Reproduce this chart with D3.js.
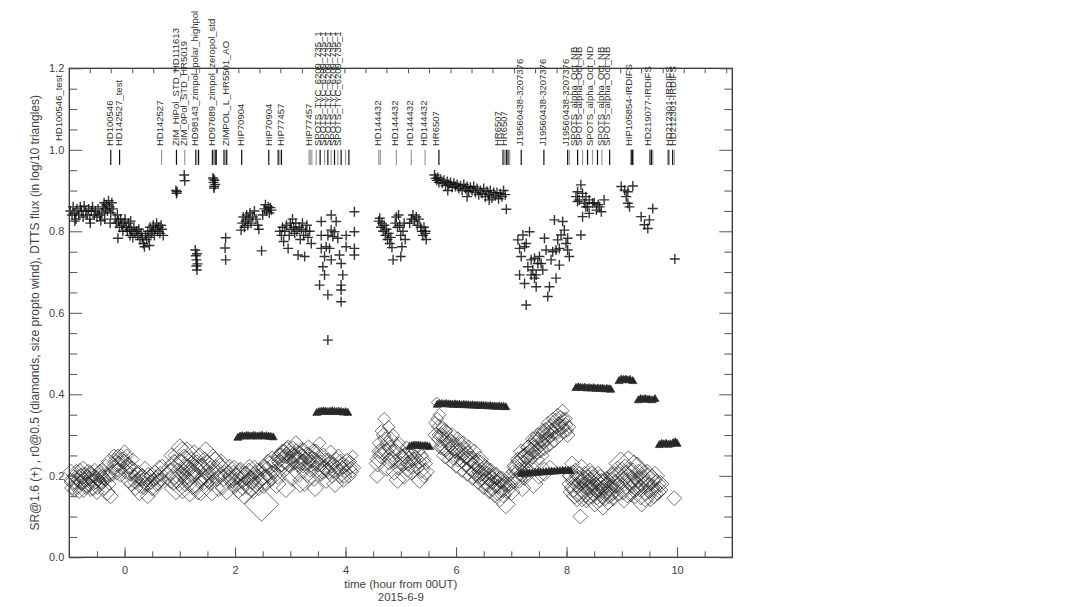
<!DOCTYPE html>
<html>
<head>
<meta charset="utf-8">
<script src="https://cdn.jsdelivr.net/npm/d3@7"></script>
<style>
    body { margin: 0; background: #fff; }
    text { font-family: "Liberation Sans", Arial, sans-serif; fill: #444; }
    .obsLabel { font-size: 9.5px; fill: #333; }
    .tickLabel { font-size: 11px; }
    .axisTitle { font-size: 11.5px; }
</style>
</head>
<body>
<svg id="chart"></svg>
<script>
// time axis (hours from 00UT) and flux axis
const xDomain = [-1, 11];
const yDomain = [0, 1.2];
const xMinorTicks = [-0.5, 0, 0.5, 1, 1.5, 2, 2.5, 3, 3.5, 4, 4.5, 5, 5.5, 6, 6.5, 7, 7.5, 8, 8.5, 9, 9.5, 10, 10.5];
const xMajorTicks = [0, 2, 4, 6, 8, 10];
const xTopTicks = [-0.63, -0.25, 0.14, 0.52, 0.9, 1.29, 1.67, 2.06, 2.44, 2.82, 3.21, 3.59, 3.98, 4.36, 4.74, 5.13, 5.51, 5.9, 6.28, 6.66, 7.05, 7.43, 7.82, 8.2, 8.58, 8.97, 9.35, 9.74, 10.12, 10.5, 10.89];
const yMinorTicks = [0.05, 0.1, 0.15, 0.25, 0.3, 0.35, 0.45, 0.5, 0.55, 0.65, 0.7, 0.75, 0.85, 0.9, 0.95, 1.05, 1.1, 1.15];
const yMajorTicks = [0, 0.2, 0.4, 0.6, 0.8, 1.0, 1.2];

// target names written above the plot [time, name]
const obsLabels = [
    [-1.2, 'HD100546_test'], [-0.27, 'HD100546'], [-0.1, 'HD142527_test'], [0.64, 'HD142527'],
    [0.92, 'ZIM_HiPol_STD_HD111613'], [1.07, 'ZIM_0Pol_STD_HR5019'], [1.27, 'HD98143_zimpol_polar_highpol'],
    [1.57, 'HD97689_zimpol_zeropol_std'], [1.83, 'ZIMPOL_L_HR5501_AO'], [2.1, 'HIP70904'], [2.61, 'HIP70904'],
    [2.83, 'HIP77457'], [3.34, 'HIP77457'], [3.49, 'SPOTS_TYC_6209_735_1'], [3.58, 'SPOTS_TYC_6209_735_1'],
    [3.67, 'SPOTS_TYC_6209_735_1'], [3.76, 'SPOTS_TYC_6209_735_1'], [3.85, 'SPOTS_TYC_6209_735_1'],
    [4.59, 'HD144432'], [4.89, 'HD144432'], [5.16, 'HD144432'], [5.41, 'HD144432'], [5.64, 'HR6507'],
    [6.76, 'HR6507'], [6.86, 'HR6507'], [7.15, 'J19560438-3207376'], [7.56, 'J19560438-3207376'],
    [7.99, 'J19560438-3207376'], [8.13, 'SPOTS_alpha_Oct_NB'], [8.22, 'SPOTS_alpha_Oct_NB'],
    [8.41, 'SPOTS_alpha_Oct_ND'], [8.61, 'SPOTS_alpha_Oct_NB'], [8.73, 'SPOTS_alpha_Oct_NB'],
    [9.12, 'HIP105854-IRDIFS'], [9.47, 'HD219077-IRDIFS'], [9.85, 'HD212301-IRDIFS'], [9.92, 'HD212301-IRDIFS']
];

// observation start marks [time, 1 = black / 0 = grey]
const obsBars = [
    [-0.25, 1], [-0.09, 1], [0.67, 0], [0.94, 1], [1.09, 0], [1.29, 1], [1.31, 0], [1.34, 1],
    [1.59, 1], [1.61, 0], [1.64, 1], [1.66, 1], [1.8, 1], [1.83, 0], [1.85, 1], [2.12, 1], [2.61, 1],
    [2.78, 1], [2.81, 0], [2.84, 1], [3.34, 0], [3.36, 0], [3.39, 0], [3.47, 0], [3.54, 1], [3.62, 0],
    [3.68, 1], [3.74, 0], [3.8, 1], [3.86, 0], [3.92, 1], [4.0, 0], [4.06, 1], [4.6, 0], [4.63, 0],
    [4.92, 0], [5.19, 0], [5.44, 0], [5.69, 1], [6.85, 1], [6.88, 0], [6.91, 1], [6.94, 1], [6.97, 0],
    [7.18, 1], [7.59, 1], [8.02, 1], [8.05, 0], [8.2, 1], [8.29, 0], [8.38, 1], [8.47, 0], [8.56, 1],
    [8.64, 0], [8.78, 1], [9.17, 1], [9.19, 1], [9.2, 1], [9.51, 1], [9.54, 1], [9.56, 0],
    [9.84, 1], [9.86, 0], [9.92, 1], [9.95, 0]
];

// SR@1.6 (crosses) [time, value]
const srPoints = [
    [-0.98, 0.85], [-0.95, 0.84], [-0.93, 0.86], [-0.9, 0.845], [-0.88, 0.83], [-0.86, 0.855], [-0.83, 0.84],
    [-0.8, 0.86], [-0.78, 0.85], [-0.75, 0.835], [-0.73, 0.862], [-0.7, 0.85], [-0.68, 0.84], [-0.65, 0.855],
    [-0.63, 0.83], [-0.6, 0.85], [-0.58, 0.86], [-0.55, 0.84], [-0.53, 0.85], [-0.5, 0.835], [-0.48, 0.855],
    [-0.45, 0.84], [-0.43, 0.826], [-0.41, 0.845], [-0.39, 0.86], [-0.37, 0.87], [-0.35, 0.855], [-0.33, 0.865],
    [-0.31, 0.85], [-0.29, 0.875], [-0.27, 0.86], [-0.25, 0.845], [-0.23, 0.87], [-0.21, 0.855], [-0.36, 0.83],
    [-0.26, 0.82], [-0.9, 0.825], [-0.62, 0.82],
    [-0.17, 0.83], [-0.15, 0.82], [-0.13, 0.84], [-0.11, 0.825], [-0.09, 0.81], [-0.07, 0.83], [-0.05, 0.815],
    [-0.03, 0.8], [-0.01, 0.82], [0.01, 0.83], [0.03, 0.81], [0.05, 0.8], [0.07, 0.82], [0.09, 0.805],
    [0.11, 0.825], [0.13, 0.8], [0.15, 0.785], [0.17, 0.81], [0.19, 0.795], [-0.12, 0.783], [0.1, 0.79],
    [0.22, 0.8], [0.24, 0.79], [0.26, 0.805], [0.28, 0.78], [0.3, 0.795], [0.32, 0.785], [0.34, 0.77],
    [0.36, 0.762], [0.38, 0.79], [0.4, 0.78], [0.42, 0.8], [0.44, 0.785], [0.46, 0.81], [0.48, 0.795],
    [0.5, 0.8], [0.52, 0.815], [0.54, 0.79], [0.56, 0.805], [0.58, 0.82], [0.6, 0.8], [0.62, 0.81],
    [0.64, 0.795], [0.66, 0.815], [0.68, 0.805], [0.7, 0.79], [0.45, 0.765],
    [0.93, 0.9], [0.94, 0.893], [0.95, 0.897], [1.08, 0.938], [1.09, 0.924],
    [1.28, 0.754], [1.29, 0.74], [1.3, 0.73], [1.31, 0.745], [1.3, 0.715], [1.31, 0.705], [1.32, 0.72],
    [1.6, 0.931], [1.61, 0.92], [1.62, 0.91], [1.63, 0.925], [1.64, 0.915], [1.62, 0.906], [1.61, 0.928],
    [1.83, 0.784], [1.82, 0.759], [1.83, 0.73],
    [2.11, 0.803], [2.13, 0.82], [2.15, 0.835], [2.17, 0.81], [2.19, 0.825], [2.21, 0.84], [2.23, 0.815],
    [2.25, 0.83], [2.27, 0.845], [2.29, 0.82], [2.32, 0.835], [2.35, 0.85], [2.38, 0.83], [2.41, 0.815],
    [2.43, 0.805], [2.48, 0.752], [2.5, 0.84], [2.53, 0.855], [2.55, 0.865], [2.57, 0.85], [2.6, 0.86],
    [2.62, 0.845], [2.64, 0.858], [2.66, 0.852],
    [2.81, 0.8], [2.84, 0.79], [2.86, 0.81], [2.88, 0.775], [2.9, 0.8], [2.93, 0.815], [2.96, 0.758],
    [2.98, 0.79], [3.0, 0.82], [3.02, 0.805], [3.04, 0.83], [3.06, 0.81], [3.08, 0.795], [3.1, 0.82],
    [3.12, 0.8], [3.14, 0.742], [3.16, 0.81], [3.18, 0.78], [3.2, 0.805], [3.22, 0.82], [3.24, 0.79],
    [3.26, 0.738], [3.28, 0.8], [3.3, 0.815], [3.32, 0.785], [3.35, 0.8], [3.38, 0.77],
    [3.53, 0.668], [3.56, 0.824], [3.56, 0.79], [3.56, 0.758], [3.59, 0.713], [3.62, 0.693], [3.62, 0.738],
    [3.65, 0.762], [3.68, 0.644], [3.68, 0.533], [3.68, 0.79], [3.71, 0.758], [3.74, 0.84], [3.74, 0.73],
    [3.74, 0.803], [3.77, 0.787], [3.8, 0.799], [3.83, 0.824], [3.86, 0.783], [3.89, 0.742], [3.92, 0.721],
    [3.95, 0.693], [3.92, 0.668], [3.92, 0.656], [3.92, 0.627], [4.01, 0.79], [4.01, 0.762], [4.16, 0.848],
    [4.16, 0.799], [4.16, 0.758], [4.16, 0.742],
    [4.6, 0.825], [4.62, 0.832], [4.64, 0.81], [4.66, 0.82], [4.68, 0.8], [4.7, 0.815], [4.72, 0.79],
    [4.74, 0.805], [4.76, 0.78], [4.78, 0.795], [4.8, 0.77], [4.82, 0.785], [4.86, 0.73], [4.84, 0.76],
    [4.9, 0.82], [4.92, 0.835], [4.94, 0.81], [4.96, 0.84], [4.98, 0.815], [5.0, 0.79], [5.02, 0.762],
    [5.0, 0.738], [5.04, 0.8], [5.06, 0.82], [5.08, 0.78],
    [5.16, 0.82], [5.19, 0.83], [5.22, 0.84], [5.25, 0.825], [5.28, 0.835], [5.3, 0.815], [5.33, 0.83],
    [5.36, 0.81], [5.38, 0.8], [5.4, 0.79], [5.42, 0.81], [5.44, 0.795], [5.46, 0.78], [5.45, 0.8],
    [5.61, 0.938], [5.63, 0.93], [5.65, 0.925], [5.67, 0.932], [5.69, 0.92], [5.72, 0.928], [5.75, 0.918],
    [5.78, 0.925], [5.81, 0.912], [5.84, 0.922], [5.87, 0.915], [5.9, 0.92], [5.93, 0.908], [5.96, 0.918],
    [5.99, 0.91], [6.02, 0.915], [6.05, 0.905], [6.08, 0.912], [6.11, 0.9], [6.14, 0.915], [6.17, 0.905],
    [6.2, 0.91], [6.23, 0.898], [6.26, 0.908], [6.29, 0.9], [6.32, 0.91], [6.35, 0.895], [6.38, 0.905],
    [6.41, 0.89], [6.44, 0.9], [6.47, 0.893], [6.5, 0.905], [6.53, 0.885], [6.56, 0.898], [6.59, 0.89],
    [6.62, 0.9], [6.65, 0.882], [6.68, 0.895], [6.71, 0.887], [6.74, 0.895], [6.77, 0.88], [6.8, 0.892],
    [6.83, 0.885], [6.86, 0.9], [6.89, 0.89], [6.91, 0.854], [5.85, 0.9], [6.2, 0.885], [6.6, 0.877],
    [7.12, 0.779], [7.15, 0.758], [7.18, 0.738], [7.21, 0.791], [7.27, 0.77], [7.33, 0.799], [7.15, 0.693],
    [7.24, 0.672], [7.27, 0.619], [7.3, 0.713], [7.36, 0.73], [7.39, 0.705], [7.42, 0.685], [7.45, 0.664],
    [7.48, 0.721], [7.51, 0.738], [7.57, 0.705], [7.63, 0.754], [7.66, 0.64], [7.69, 0.664], [7.72, 0.73],
    [7.75, 0.75], [7.78, 0.828], [7.81, 0.685], [7.81, 0.754], [7.84, 0.779], [7.87, 0.758], [7.9, 0.791],
    [7.93, 0.824], [7.96, 0.803], [7.99, 0.77], [8.02, 0.754], [8.05, 0.738], [7.87, 0.717], [8.02, 0.783],
    [7.6, 0.783], [7.54, 0.721], [7.45, 0.693], [7.36, 0.693], [7.24, 0.762], [7.42, 0.734], [8.26, 0.791],
    [8.17, 0.885], [8.2, 0.873], [8.23, 0.877], [8.26, 0.914], [8.29, 0.893], [8.32, 0.869], [8.35, 0.885],
    [8.38, 0.86], [8.41, 0.877], [8.47, 0.869], [8.54, 0.852], [8.6, 0.86], [8.63, 0.848], [8.68, 0.877],
    [8.29, 0.836], [8.41, 0.844], [8.2, 0.897], [8.35, 0.86], [8.5, 0.87], [8.57, 0.865],
    [8.99, 0.91], [9.11, 0.897], [9.2, 0.911], [9.08, 0.885], [9.11, 0.869], [9.14, 0.86], [9.05, 0.901],
    [9.35, 0.836], [9.41, 0.816], [9.5, 0.828], [9.47, 0.807], [9.56, 0.856], [9.96, 0.732]
];

// r0@0.5 (diamonds) [time, value, wind m/s]
const r0Points = [
    [-0.98, 0.19, 6], [-0.95, 0.17, 7], [-0.92, 0.2, 6], [-0.9, 0.18, 5], [-0.87, 0.21, 7], [-0.85, 0.19, 6],
    [-0.82, 0.16, 6], [-0.8, 0.2, 7], [-0.77, 0.18, 6], [-0.75, 0.22, 6], [-0.72, 0.19, 7], [-0.7, 0.17, 6],
    [-0.67, 0.2, 5], [-0.65, 0.18, 7], [-0.62, 0.21, 6], [-0.6, 0.19, 6], [-0.57, 0.17, 7], [-0.55, 0.2, 6],
    [-0.52, 0.18, 5], [-0.5, 0.16, 7], [-0.47, 0.19, 6], [-0.45, 0.21, 7], [-0.42, 0.18, 6], [-0.4, 0.2, 6],
    [-0.37, 0.17, 7], [-0.35, 0.19, 6], [-0.32, 0.16, 8], [-0.3, 0.2, 6], [-0.27, 0.18, 6], [-0.25, 0.15, 7],
    [-0.2, 0.22, 7], [-0.17, 0.24, 6], [-0.14, 0.21, 8], [-0.12, 0.25, 6], [-0.1, 0.23, 7], [-0.07, 0.2, 6],
    [-0.05, 0.24, 7], [-0.02, 0.22, 6], [0.0, 0.26, 6], [0.03, 0.21, 7], [0.05, 0.23, 6], [0.08, 0.19, 8],
    [0.1, 0.22, 6], [0.12, 0.18, 7], [0.15, 0.24, 6],
    [0.18, 0.2, 6], [0.2, 0.17, 7], [0.22, 0.19, 6], [0.25, 0.21, 6], [0.27, 0.16, 8], [0.3, 0.19, 6],
    [0.32, 0.2, 7], [0.35, 0.17, 6], [0.37, 0.22, 6], [0.4, 0.19, 7], [0.42, 0.15, 7], [0.45, 0.18, 6],
    [0.47, 0.2, 6], [0.5, 0.17, 7], [0.52, 0.19, 6], [0.55, 0.21, 6], [0.58, 0.18, 7], [0.6, 0.2, 6],
    [0.63, 0.22, 7], [0.66, 0.19, 6],
    [0.82, 0.21, 8], [0.85, 0.25, 7], [0.88, 0.19, 10], [0.9, 0.23, 9], [0.93, 0.17, 11], [0.96, 0.2, 12],
    [1.0, 0.27, 8], [1.02, 0.22, 13], [1.05, 0.18, 14], [1.08, 0.24, 10], [1.1, 0.2, 15], [1.13, 0.26, 9],
    [1.15, 0.21, 12], [1.18, 0.17, 13], [1.2, 0.23, 11], [1.23, 0.19, 14], [1.26, 0.25, 10], [1.28, 0.2, 16],
    [1.31, 0.22, 12], [1.33, 0.18, 15], [1.36, 0.24, 11], [1.4, 0.21, 13], [1.43, 0.19, 10], [1.47, 0.26, 9],
    [1.5, 0.22, 12], [1.55, 0.2, 14], [1.6, 0.24, 10], [1.65, 0.21, 11], [1.7, 0.18, 12], [1.75, 0.23, 9],
    [1.8, 0.2, 10], [1.85, 0.17, 11], [1.9, 0.22, 8],
    [1.95, 0.19, 8], [1.98, 0.22, 7], [2.0, 0.18, 9], [2.03, 0.2, 8], [2.06, 0.17, 10], [2.1, 0.21, 9],
    [2.13, 0.19, 8], [2.16, 0.16, 11], [2.2, 0.2, 9], [2.23, 0.18, 10], [2.26, 0.22, 8], [2.3, 0.19, 9],
    [2.33, 0.17, 10], [2.36, 0.2, 9], [2.4, 0.21, 8], [2.43, 0.18, 11], [2.48, 0.13, 16], [2.5, 0.2, 9],
    [2.53, 0.22, 8], [2.56, 0.19, 10], [2.6, 0.23, 9], [2.63, 0.2, 8], [2.67, 0.24, 8], [2.7, 0.21, 7],
    [2.75, 0.18, 9],
    [2.8, 0.25, 7], [2.83, 0.23, 8], [2.86, 0.26, 7], [2.9, 0.22, 9], [2.93, 0.25, 8], [2.96, 0.27, 7],
    [3.0, 0.23, 9], [3.03, 0.2, 10], [3.06, 0.25, 8], [3.1, 0.28, 7], [3.13, 0.24, 9], [3.16, 0.21, 10],
    [3.2, 0.26, 8], [3.23, 0.23, 9], [3.26, 0.19, 11], [3.3, 0.25, 8], [3.33, 0.27, 7], [3.36, 0.22, 9],
    [3.4, 0.24, 8], [3.43, 0.2, 10], [3.46, 0.26, 7], [3.5, 0.23, 8], [3.53, 0.28, 6], [3.56, 0.21, 9],
    [3.6, 0.25, 7], [2.92, 0.17, 9], [3.18, 0.18, 8], [3.45, 0.17, 8],
    [3.62, 0.22, 7], [3.65, 0.19, 8], [3.68, 0.24, 6], [3.7, 0.21, 7], [3.73, 0.26, 6], [3.76, 0.2, 7],
    [3.78, 0.23, 6], [3.81, 0.18, 8], [3.84, 0.22, 7], [3.87, 0.25, 6], [3.9, 0.2, 7], [3.93, 0.23, 6],
    [3.96, 0.19, 7], [4.0, 0.21, 6], [4.03, 0.24, 6], [4.06, 0.2, 7], [4.1, 0.22, 6], [4.13, 0.25, 5],
    [4.16, 0.22, 6],
    [4.57, 0.2, 7], [4.6, 0.24, 8], [4.62, 0.28, 7], [4.65, 0.31, 6], [4.67, 0.26, 8], [4.7, 0.34, 6],
    [4.72, 0.29, 7], [4.75, 0.22, 8], [4.78, 0.32, 6], [4.8, 0.27, 7], [4.83, 0.24, 8], [4.86, 0.3, 6],
    [4.88, 0.21, 8], [4.91, 0.26, 7], [4.94, 0.19, 8], [4.97, 0.28, 6], [5.0, 0.23, 7], [5.03, 0.25, 6],
    [5.06, 0.2, 8], [5.1, 0.27, 6], [5.13, 0.23, 7], [5.16, 0.26, 6], [5.2, 0.21, 8], [5.23, 0.24, 7],
    [5.27, 0.27, 6], [5.3, 0.22, 7], [5.34, 0.19, 8], [5.38, 0.25, 6], [5.42, 0.2, 7], [5.46, 0.23, 6],
    [5.62, 0.33, 6], [5.65, 0.38, 5], [5.68, 0.3, 6], [5.7, 0.35, 6], [5.72, 0.27, 7], [5.75, 0.32, 6],
    [5.78, 0.29, 7], [5.8, 0.25, 8], [5.83, 0.31, 6], [5.86, 0.28, 7], [5.9, 0.24, 8], [5.93, 0.3, 7],
    [5.96, 0.27, 8], [6.0, 0.23, 9], [6.03, 0.29, 7], [6.06, 0.26, 8], [6.1, 0.22, 9], [6.13, 0.28, 7],
    [6.16, 0.25, 8], [6.2, 0.21, 9], [6.23, 0.27, 7], [6.26, 0.24, 8], [6.3, 0.2, 9], [6.33, 0.26, 7],
    [6.36, 0.23, 8], [6.4, 0.19, 9], [6.43, 0.24, 8], [6.46, 0.21, 9], [6.5, 0.18, 10], [6.53, 0.22, 8],
    [6.56, 0.2, 9], [6.6, 0.17, 10], [6.63, 0.21, 8], [6.66, 0.19, 9], [6.7, 0.16, 10], [6.73, 0.2, 8],
    [6.76, 0.18, 9], [6.8, 0.15, 10], [6.83, 0.19, 8], [6.86, 0.17, 9], [6.9, 0.13, 9], [6.93, 0.18, 7],
    [6.96, 0.2, 6], [7.0, 0.16, 8], [7.03, 0.21, 6],
    [7.06, 0.22, 7], [7.09, 0.19, 8], [7.12, 0.24, 7], [7.15, 0.21, 9], [7.18, 0.26, 7], [7.21, 0.23, 8],
    [7.24, 0.2, 9], [7.27, 0.25, 8], [7.3, 0.27, 7], [7.33, 0.22, 9], [7.36, 0.26, 8], [7.39, 0.29, 7],
    [7.42, 0.24, 9], [7.45, 0.28, 8], [7.48, 0.3, 7], [7.51, 0.25, 9], [7.54, 0.28, 8], [7.57, 0.31, 7],
    [7.6, 0.27, 8], [7.63, 0.3, 7], [7.66, 0.33, 6], [7.69, 0.28, 8], [7.72, 0.31, 7], [7.75, 0.34, 6],
    [7.78, 0.29, 8], [7.81, 0.32, 7], [7.84, 0.35, 6], [7.87, 0.3, 7], [7.9, 0.33, 6], [7.93, 0.36, 6],
    [7.96, 0.31, 7], [7.99, 0.34, 6], [8.02, 0.3, 7], [8.05, 0.32, 6], [7.5, 0.2, 8], [7.7, 0.22, 7],
    [8.08, 0.2, 8], [8.1, 0.23, 7], [8.13, 0.17, 9], [8.16, 0.21, 8], [8.19, 0.15, 10], [8.22, 0.19, 9],
    [8.25, 0.1, 7], [8.27, 0.22, 8], [8.3, 0.17, 10], [8.33, 0.2, 9], [8.36, 0.15, 11], [8.39, 0.18, 10],
    [8.42, 0.21, 8], [8.45, 0.16, 11], [8.48, 0.19, 10], [8.51, 0.14, 11], [8.54, 0.17, 10], [8.57, 0.2, 9],
    [8.6, 0.15, 11], [8.63, 0.18, 10], [8.66, 0.13, 10], [8.69, 0.16, 9], [8.72, 0.19, 8], [8.75, 0.14, 9],
    [8.78, 0.17, 8], [8.82, 0.2, 8], [8.85, 0.15, 9], [8.88, 0.18, 9],
    [8.92, 0.21, 10], [8.96, 0.17, 12], [9.0, 0.2, 13], [9.04, 0.15, 11], [9.08, 0.19, 14], [9.12, 0.23, 12],
    [9.16, 0.17, 13], [9.2, 0.2, 12], [9.24, 0.16, 11], [9.28, 0.22, 10], [9.32, 0.18, 12], [9.36, 0.14, 11],
    [9.4, 0.2, 10], [9.44, 0.17, 12], [9.48, 0.19, 11], [9.52, 0.15, 10], [9.56, 0.17, 9], [9.6, 0.2, 9],
    [9.65, 0.16, 8], [9.7, 0.18, 8], [9.95, 0.145, 7],
    // second pass of the same nights (denser sampling)
    [-0.97, 0.21, 7], [-0.94, 0.185, 8], [-0.91, 0.165, 6], [-0.88, 0.195, 7], [-0.84, 0.175, 8], [-0.81, 0.215, 6],
    [-0.79, 0.185, 7], [-0.76, 0.2, 8], [-0.74, 0.165, 7], [-0.71, 0.205, 6], [-0.69, 0.18, 8], [-0.66, 0.21, 7],
    [-0.64, 0.195, 6], [-0.61, 0.17, 8], [-0.59, 0.2, 7], [-0.56, 0.185, 8], [-0.54, 0.215, 6], [-0.51, 0.195, 7],
    [-0.49, 0.175, 8], [-0.46, 0.2, 7], [-0.44, 0.185, 6], [-0.41, 0.21, 8], [-0.38, 0.195, 7], [-0.34, 0.225, 6],
    [-0.31, 0.2, 8], [-0.28, 0.235, 7], [-0.24, 0.205, 8], [-0.19, 0.25, 6], [-0.16, 0.23, 8], [-0.11, 0.215, 7],
    [-0.06, 0.245, 8], [-0.01, 0.235, 7], [0.04, 0.25, 6], [0.07, 0.225, 8], [0.11, 0.205, 7], [0.14, 0.215, 8],
    [0.19, 0.185, 7], [0.24, 0.2, 8], [0.29, 0.175, 7], [0.33, 0.195, 8], [0.38, 0.18, 7], [0.43, 0.2, 8],
    [0.48, 0.185, 7], [0.53, 0.17, 8], [0.57, 0.195, 7], [0.61, 0.185, 8], [0.65, 0.205, 7], [0.68, 0.225, 6],
    [0.84, 0.2, 12], [0.91, 0.215, 14], [0.99, 0.19, 11], [1.04, 0.25, 13], [1.11, 0.23, 12], [1.17, 0.2, 10],
    [1.22, 0.215, 13], [1.27, 0.185, 12], [1.35, 0.205, 14], [1.38, 0.17, 12], [1.45, 0.23, 11], [1.52, 0.195, 10],
    [1.58, 0.17, 12], [1.63, 0.225, 13], [1.68, 0.2, 10], [1.73, 0.215, 11], [1.78, 0.185, 12], [1.88, 0.2, 10],
    [1.97, 0.2, 10], [2.02, 0.19, 11], [2.08, 0.205, 10], [2.14, 0.175, 9], [2.19, 0.195, 11], [2.25, 0.205, 10],
    [2.29, 0.18, 12], [2.35, 0.215, 9], [2.41, 0.19, 10], [2.46, 0.2, 12], [2.52, 0.185, 11], [2.58, 0.21, 10],
    [2.62, 0.225, 9], [2.66, 0.2, 10], [2.72, 0.23, 8], [2.77, 0.2, 8],
    [2.82, 0.245, 9], [2.85, 0.235, 10], [2.88, 0.255, 9], [2.91, 0.24, 10], [2.94, 0.26, 9], [2.97, 0.235, 10],
    [3.01, 0.25, 9], [3.04, 0.265, 8], [3.07, 0.24, 10], [3.11, 0.255, 9], [3.14, 0.235, 10], [3.17, 0.25, 9],
    [3.21, 0.24, 10], [3.24, 0.26, 8], [3.28, 0.235, 9], [3.31, 0.21, 10], [3.34, 0.245, 9], [3.38, 0.23, 8],
    [3.41, 0.26, 7], [3.44, 0.235, 9], [3.48, 0.215, 8], [3.52, 0.245, 7], [3.55, 0.23, 8], [3.58, 0.21, 7],
    [3.63, 0.24, 6], [3.67, 0.215, 7], [3.72, 0.235, 6], [3.75, 0.225, 7], [3.8, 0.21, 6], [3.83, 0.24, 7],
    [3.88, 0.215, 6], [3.91, 0.235, 7], [3.95, 0.22, 6], [3.98, 0.2, 7], [4.02, 0.225, 6], [4.08, 0.235, 6],
    [4.12, 0.21, 6],
    [4.58, 0.23, 8], [4.61, 0.26, 7], [4.64, 0.25, 8], [4.69, 0.3, 7], [4.73, 0.26, 8], [4.76, 0.28, 7],
    [4.79, 0.235, 8], [4.82, 0.29, 7], [4.85, 0.255, 8], [4.9, 0.235, 7], [4.93, 0.27, 8], [4.96, 0.22, 7],
    [5.01, 0.245, 8], [5.05, 0.23, 7], [5.08, 0.25, 8], [5.12, 0.215, 7], [5.15, 0.24, 8], [5.19, 0.255, 7],
    [5.22, 0.225, 8], [5.26, 0.245, 7], [5.29, 0.26, 8], [5.33, 0.235, 7], [5.37, 0.215, 8], [5.41, 0.24, 7],
    [5.45, 0.21, 8],
    [5.63, 0.3, 7], [5.66, 0.34, 6], [5.69, 0.32, 7], [5.71, 0.29, 8], [5.74, 0.3, 7], [5.77, 0.27, 8],
    [5.79, 0.31, 7], [5.82, 0.27, 9], [5.85, 0.29, 8], [5.88, 0.26, 9], [5.91, 0.28, 8], [5.95, 0.25, 9],
    [5.98, 0.27, 10], [6.01, 0.26, 8], [6.04, 0.245, 9], [6.08, 0.27, 10], [6.11, 0.24, 8], [6.15, 0.26, 9],
    [6.18, 0.235, 10], [6.21, 0.25, 9], [6.25, 0.225, 10], [6.28, 0.24, 8], [6.31, 0.22, 10], [6.35, 0.21, 9],
    [6.38, 0.23, 10], [6.41, 0.205, 9], [6.45, 0.225, 10], [6.48, 0.2, 9], [6.51, 0.19, 10], [6.55, 0.21, 9],
    [6.58, 0.185, 10], [6.62, 0.195, 9], [6.65, 0.175, 10], [6.68, 0.2, 8], [6.72, 0.18, 9], [6.75, 0.165, 10],
    [6.79, 0.19, 8], [6.82, 0.17, 9], [6.85, 0.155, 8], [6.88, 0.18, 7], [6.92, 0.165, 8], [6.98, 0.18, 7],
    [7.07, 0.2, 8], [7.1, 0.225, 9], [7.14, 0.19, 8], [7.17, 0.235, 9], [7.2, 0.205, 8], [7.23, 0.245, 9],
    [7.26, 0.215, 8], [7.29, 0.25, 9], [7.32, 0.24, 8], [7.35, 0.27, 9], [7.38, 0.25, 8], [7.41, 0.265, 9],
    [7.44, 0.29, 7], [7.47, 0.26, 8], [7.5, 0.285, 9], [7.53, 0.265, 8], [7.56, 0.295, 9], [7.59, 0.285, 7],
    [7.62, 0.31, 8], [7.65, 0.29, 7], [7.68, 0.315, 8], [7.71, 0.3, 7], [7.74, 0.32, 8], [7.77, 0.305, 7],
    [7.8, 0.335, 7], [7.83, 0.31, 8], [7.86, 0.325, 7], [7.89, 0.345, 6], [7.92, 0.32, 7], [7.95, 0.34, 6],
    [7.98, 0.325, 7], [8.01, 0.31, 6], [7.2, 0.17, 8], [7.4, 0.18, 9], [7.6, 0.21, 9],
    [8.09, 0.18, 9], [8.12, 0.2, 10], [8.15, 0.16, 11], [8.18, 0.185, 10], [8.21, 0.165, 11], [8.24, 0.2, 9],
    [8.28, 0.155, 12], [8.31, 0.185, 11], [8.34, 0.165, 12], [8.37, 0.19, 10], [8.4, 0.16, 12], [8.43, 0.18, 11],
    [8.46, 0.2, 9], [8.49, 0.165, 11], [8.52, 0.18, 12], [8.55, 0.155, 10], [8.58, 0.175, 11], [8.61, 0.19, 10],
    [8.64, 0.16, 11], [8.67, 0.18, 10], [8.7, 0.15, 9], [8.73, 0.17, 10], [8.77, 0.155, 9], [8.8, 0.185, 9],
    [8.84, 0.165, 10], [8.87, 0.2, 9],
    [8.94, 0.19, 12], [8.98, 0.23, 11], [9.02, 0.175, 13], [9.06, 0.21, 12], [9.1, 0.165, 12], [9.14, 0.2, 13],
    [9.18, 0.185, 11], [9.22, 0.22, 12], [9.26, 0.18, 12], [9.3, 0.2, 11], [9.34, 0.16, 12], [9.38, 0.185, 11],
    [9.42, 0.15, 10], [9.46, 0.2, 11], [9.5, 0.17, 10], [9.54, 0.19, 10], [9.58, 0.155, 9], [9.63, 0.18, 9],
    [9.68, 0.165, 8]
];

// DTTS flux, log/10 (triangles) [time, value]
const dttsPoints = [
    [2.05, 0.293], [2.09, 0.296], [2.13, 0.297], [2.17, 0.296], [2.21, 0.298], [2.25, 0.297], [2.29, 0.296],
    [2.33, 0.298], [2.37, 0.297], [2.41, 0.296], [2.45, 0.297], [2.49, 0.298], [2.53, 0.296], [2.57, 0.297],
    [2.61, 0.296], [2.65, 0.295], [2.69, 0.294],
    [3.48, 0.354], [3.52, 0.356], [3.56, 0.357], [3.6, 0.358], [3.64, 0.357], [3.68, 0.356], [3.72, 0.357],
    [3.76, 0.358], [3.8, 0.357], [3.84, 0.356], [3.88, 0.357], [3.92, 0.356], [3.96, 0.355], [4.0, 0.356],
    [4.04, 0.354],
    [5.16, 0.271], [5.2, 0.273], [5.24, 0.274], [5.28, 0.273], [5.32, 0.274], [5.36, 0.273], [5.4, 0.272],
    [5.44, 0.273], [5.48, 0.272], [5.52, 0.27],
    [5.66, 0.374], [5.7, 0.376], [5.74, 0.376], [5.78, 0.375], [5.82, 0.376], [5.86, 0.375], [5.9, 0.375],
    [5.94, 0.374], [5.98, 0.375], [6.02, 0.374], [6.06, 0.374], [6.1, 0.373], [6.14, 0.374], [6.18, 0.373],
    [6.22, 0.373], [6.26, 0.372], [6.3, 0.373], [6.34, 0.372], [6.38, 0.372], [6.42, 0.371], [6.46, 0.372],
    [6.5, 0.371], [6.54, 0.371], [6.58, 0.37], [6.62, 0.371], [6.66, 0.37], [6.7, 0.37], [6.74, 0.369],
    [6.78, 0.37], [6.82, 0.369], [6.86, 0.369], [6.9, 0.368],
    [7.18, 0.204], [7.23, 0.205], [7.28, 0.205], [7.33, 0.206], [7.38, 0.206], [7.43, 0.207], [7.48, 0.207],
    [7.53, 0.208], [7.58, 0.208], [7.63, 0.209], [7.68, 0.209], [7.73, 0.21], [7.78, 0.21], [7.83, 0.211],
    [7.88, 0.211], [7.93, 0.212], [7.98, 0.212], [8.03, 0.212], [8.07, 0.211],
    [8.17, 0.415], [8.21, 0.417], [8.25, 0.416], [8.29, 0.415], [8.33, 0.416], [8.37, 0.414], [8.41, 0.415],
    [8.45, 0.414], [8.49, 0.415], [8.53, 0.413], [8.57, 0.414], [8.61, 0.413], [8.65, 0.414], [8.69, 0.412],
    [8.73, 0.413], [8.77, 0.412], [8.8, 0.411],
    [8.95, 0.432], [8.99, 0.436], [9.03, 0.435], [9.07, 0.436], [9.11, 0.434], [9.15, 0.435], [9.2, 0.432],
    [9.3, 0.385], [9.34, 0.388], [9.38, 0.387], [9.42, 0.388], [9.46, 0.386], [9.5, 0.387], [9.55, 0.385],
    [9.6, 0.388],
    [9.68, 0.275], [9.72, 0.278], [9.76, 0.277], [9.8, 0.278], [9.84, 0.276], [9.88, 0.277], [9.93, 0.28],
    [9.97, 0.282], [10.0, 0.278]
];

class SeeingPlot {
    constructor(svgID) {
        this.svg = d3.select('#' + svgID).attr('width', 1080).attr('height', 607);
        this.left = 69.3;
        this.right = 732.3;
        this.top = 68.3;
        this.bottom = 557.3;
        this.x = d3.scaleLinear().domain(xDomain).range([this.left, this.right]);
        this.y = d3.scaleLinear().domain(yDomain).range([this.bottom, this.top]);
        this.windScale = d3.scaleLinear().domain([0, 16]).range([0, 17]);

        this.drawDiamonds();
        this.drawTriangles();
        this.drawCrosses();
        this.drawObsMarks();
        this.drawAxes();
        this.drawTitles();
    }

    drawAxes() {
        let g = this.svg.append('g').attr('class', 'axes');
        g.append('rect')
            .attr('x', this.left).attr('y', this.top)
            .attr('width', this.right - this.left).attr('height', this.bottom - this.top)
            .attr('fill', 'none').attr('stroke', '#333').attr('stroke-width', 1.3);

        // bottom: minor ticks every half hour, long ticks every 2h
        g.append('g')
            .attr('transform', 'translate(0,' + this.bottom + ')')
            .call(d3.axisBottom(this.x).tickValues(xMinorTicks).tickSize(-6).tickFormat(''))
            .call(a => a.select('.domain').remove())
            .call(a => a.selectAll('line').attr('stroke', '#555'));
        g.append('g')
            .attr('transform', 'translate(0,' + this.bottom + ')')
            .call(d3.axisBottom(this.x).tickValues(xMajorTicks).tickSize(-10).tickPadding(20).tickFormat(d3.format('d')))
            .call(a => a.select('.domain').remove())
            .call(a => a.selectAll('line').attr('stroke', '#555'))
            .call(a => a.selectAll('text').attr('class', 'tickLabel').attr('y', 17).attr('dy', 0).attr('fill', '#444'));

        // top axis
        g.append('g')
            .attr('transform', 'translate(0,' + this.top + ')')
            .call(d3.axisTop(this.x).tickValues(xTopTicks).tickSize(-5).tickFormat(''))
            .call(a => a.select('.domain').remove())
            .call(a => a.selectAll('line').attr('stroke', '#555'));

        // left and right axes
        [[this.left, 1], [this.right, -1]].forEach(([px, dir]) => {
            let ax = g.append('g').attr('transform', 'translate(' + px + ',0)');
            ax.call(d3.axisLeft(this.y).tickValues(yMinorTicks).tickSize(-8 * dir).tickFormat(''))
                .call(a => a.select('.domain').remove())
                .call(a => a.selectAll('line').attr('stroke', '#555'));
            let ax2 = g.append('g').attr('transform', 'translate(' + px + ',0)');
            ax2.call(d3.axisLeft(this.y).tickValues(yMajorTicks).tickSize(-13 * dir).tickFormat(d3.format('.1f')))
                .call(a => a.select('.domain').remove())
                .call(a => a.selectAll('line').attr('stroke', '#555'));
            if (dir === 1) {
                ax2.selectAll('text').attr('class', 'tickLabel').attr('x', -5).attr('fill', '#444');
            } else {
                ax2.selectAll('text').remove();
            }
        });
    }

    drawTitles() {
        this.svg.append('text')
            .attr('class', 'axisTitle')
            .style('font-size', '12px')
            .attr('text-anchor', 'middle')
            .attr('transform', 'translate(39,' + ((this.top + this.bottom) / 2) + ') rotate(-90)')
            .text('SR@1.6 (+) , r0@0.5 (diamonds, size propto wind), DTTS flux (in log/10 triangles)');
        let cx = (this.left + this.right) / 2;
        this.svg.append('text')
            .attr('class', 'axisTitle')
            .attr('text-anchor', 'middle')
            .attr('x', cx).attr('y', 588)
            .text('time (hour from 00UT)');
        this.svg.append('text')
            .attr('class', 'axisTitle')
            .attr('text-anchor', 'middle')
            .attr('x', cx).attr('y', 601)
            .text('2015-6-9');
    }

    drawObsMarks() {
        this.svg.append('g')
            .attr('class', 'obsBars')
            .selectAll('line')
            .data(obsBars)
            .join('line')
            .attr('x1', d => this.x(d[0]))
            .attr('x2', d => this.x(d[0]))
            .attr('y1', this.y(1.0))
            .attr('y2', this.y(0.963))
            .attr('stroke', d => d[1] ? '#111' : '#999')
            .attr('stroke-width', 1.2);
        this.svg.append('g')
            .attr('class', 'obsLabels')
            .selectAll('text')
            .data(obsLabels)
            .join('text')
            .attr('class', 'obsLabel')
            .attr('transform', d => 'translate(' + this.x(d[0]) + ',' + (d[0] < xDomain[0] ? 141 : 146) + ') rotate(-90)')
            .attr('dy', '0.35em')
            .text(d => d[1]);
    }

    drawCrosses() {
        this.svg.append('g')
            .attr('class', 'srCrosses')
            .selectAll('path')
            .data(srPoints)
            .join('path')
            .attr('transform', d => 'translate(' + this.x(d[0]) + ',' + this.y(d[1]) + ')')
            .attr('d', 'M-5,0H5M0,-5V5')
            .attr('stroke', '#111')
            .attr('stroke-opacity', 0.85)
            .attr('stroke-width', 1.4)
            .attr('fill', 'none');
    }

    drawDiamonds() {
        this.svg.append('g')
            .attr('class', 'r0Diamonds')
            .selectAll('path')
            .data(r0Points)
            .join('path')
            .attr('d', d => {
                let cx = this.x(d[0]), cy = this.y(d[1]), h = this.windScale(d[2]);
                return 'M' + cx + ',' + (cy - h) + 'L' + (cx + h) + ',' + cy + 'L' + cx + ',' + (cy + h) + 'L' + (cx - h) + ',' + cy + 'Z';
            })
            .attr('fill', 'none')
            .attr('stroke', '#222')
            .attr('stroke-opacity', 0.7)
            .attr('stroke-width', 0.9);
    }

    drawTriangles() {
        this.svg.append('g')
            .attr('class', 'dttsTriangles')
            .selectAll('path')
            .data(dttsPoints)
            .join('path')
            .attr('transform', d => 'translate(' + this.x(d[0]) + ',' + this.y(d[1]) + ')')
            .attr('d', d3.symbol(d3.symbolTriangle, 28))
            .attr('fill', '#222')
            .attr('stroke', '#333')
            .attr('stroke-width', 0.8);
    }
}

new SeeingPlot('chart');
</script>
</body>
</html>
